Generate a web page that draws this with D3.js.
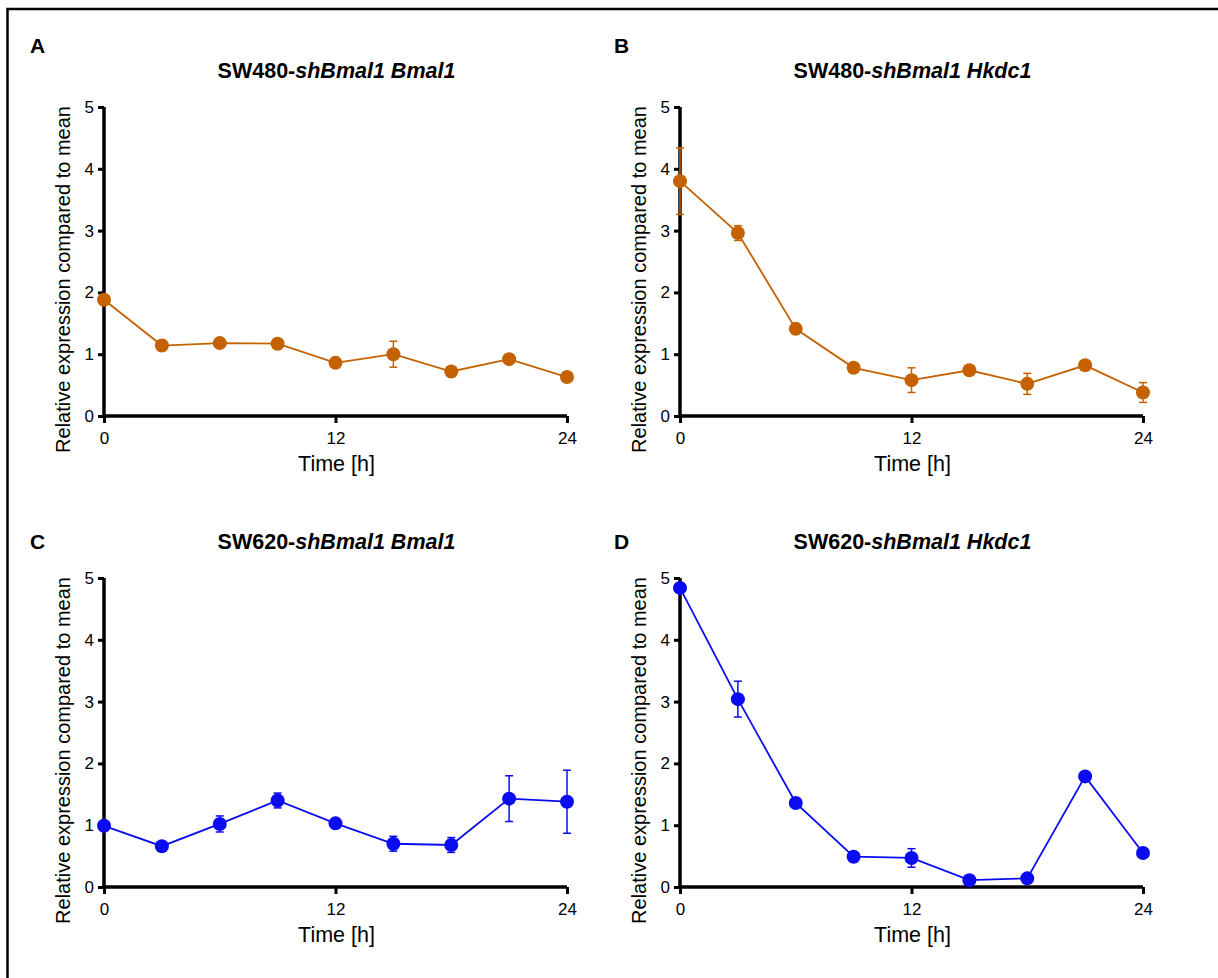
<!DOCTYPE html>
<html>
<head>
<meta charset="utf-8">
<script src="https://d3js.org/d3.v7.min.js"></script>
<style>
  body { margin: 0; background: #fff; }
  text { font-family: Arial, "Liberation Sans", sans-serif; fill: #000; }
</style>
</head>
<body>
<svg id="svg" width="1218" height="978"></svg>
<script>
// time points (h)
var hours = [0, 3, 6, 9, 12, 15, 18, 21, 24];
var xTicks = [0, 12, 24];
var yTicks = [0, 1, 2, 3, 4, 5];

// panel A: SW480 Bmal1
var meanA = [1.88, 1.14, 1.18, 1.17, 0.86, 1.00, 0.72, 0.92, 0.63];
var semA  = [0.03, 0.03, 0.03, 0.03, 0.07, 0.21, 0.03, 0.03, 0.03];
// panel B: SW480 Hkdc1
var meanB = [3.80, 2.96, 1.41, 0.78, 0.58, 0.74, 0.52, 0.82, 0.38];
var semB  = [0.54, 0.12, 0.03, 0.03, 0.20, 0.03, 0.17, 0.03, 0.16];
// panel C: SW620 Bmal1
var meanC = [0.99, 0.66, 1.02, 1.40, 1.03, 0.70, 0.68, 1.43, 1.38];
var semC  = [0.03, 0.03, 0.13, 0.12, 0.03, 0.12, 0.12, 0.37, 0.51];
// panel D: SW620 Hkdc1
var meanD = [4.84, 3.04, 1.36, 0.49, 0.47, 0.11, 0.14, 1.79, 0.55];
var semD  = [0.03, 0.29, 0.03, 0.03, 0.15, 0.03, 0.03, 0.03, 0.03];

var orange = "#c46200";
var blue = "#0b0bf2";

var panels = [
  {letter: "A", cell: "SW480-", gene: "Bmal1", mean: meanA, sem: semA, color: orange, x0: 104, y0: 107, lx: 30, ly: 53, ty: 78},
  {letter: "B", cell: "SW480-", gene: "Hkdc1", mean: meanB, sem: semB, color: orange, x0: 680, y0: 107, lx: 614, ly: 53, ty: 78},
  {letter: "C", cell: "SW620-", gene: "Bmal1", mean: meanC, sem: semC, color: blue, x0: 104, y0: 578, lx: 30, ly: 549, ty: 549},
  {letter: "D", cell: "SW620-", gene: "Hkdc1", mean: meanD, sem: semD, color: blue, x0: 680, y0: 578, lx: 614, ly: 549, ty: 549}
];

var svg = d3.select("svg");
var w = 463, h = 309;

// outer frame (only top and left edges fall inside the picture)
svg.append("rect").attr("x", 7.5).attr("y", 9).attr("width", 1300).attr("height", 1100)
  .attr("fill", "none").attr("stroke", "#000").attr("stroke-width", 2.5);

panels.forEach(function(p) {
  var g = svg.append("g").attr("transform", "translate(" + p.x0 + "," + p.y0 + ")");
  var x = d3.scaleLinear().domain([0, 24]).range([0, w]);
  var y = d3.scaleLinear().domain([0, 5]).range([h, 0]);

  var xa = g.append("g").attr("transform", "translate(0," + h + ")")
    .call(d3.axisBottom(x).tickValues(xTicks).tickFormat(d3.format("d")).tickSize(7).tickPadding(9));
  var ya = g.append("g")
    .call(d3.axisLeft(y).tickValues(yTicks).tickFormat(d3.format("d")).tickSize(6).tickPadding(4));
  [xa, ya].forEach(function(a) {
    a.attr("font-size", 17).attr("font-family", null);
    a.select(".domain").attr("stroke-width", 3.5);
    a.selectAll(".tick line").attr("stroke-width", 3);
    a.selectAll(".tick text").attr("font-size", 17).style("font-size", "17px");
  });
  xa.select(".domain").attr("d", "M0,0H" + w);
  ya.select(".domain").attr("d", "M0," + (h + 1.5) + "V0");

  // error bars
  var eb = g.append("g").attr("stroke", p.color).attr("stroke-width", 1.5);
  hours.forEach(function(t, i) {
    var cx = x(t), lo = y(p.mean[i] - p.sem[i]), hi = y(p.mean[i] + p.sem[i]);
    eb.append("line").attr("x1", cx).attr("x2", cx).attr("y1", lo).attr("y2", hi);
    eb.append("line").attr("x1", cx - 4).attr("x2", cx + 4).attr("y1", lo).attr("y2", lo);
    eb.append("line").attr("x1", cx - 4).attr("x2", cx + 4).attr("y1", hi).attr("y2", hi);
  });

  var line = d3.line().x(function(d, i) { return x(hours[i]); }).y(function(d) { return y(d); });
  g.append("path").datum(p.mean).attr("d", line)
    .attr("fill", "none").attr("stroke", p.color).attr("stroke-width", 1.8);

  g.selectAll("circle").data(p.mean).enter().append("circle")
    .attr("cx", function(d, i) { return x(hours[i]); })
    .attr("cy", function(d) { return y(d); })
    .attr("r", 7).attr("fill", p.color);

  // labels
  svg.append("text").attr("x", p.lx).attr("y", p.ly).style("font-size", "21px").attr("font-weight", "bold").text(p.letter);
  var title = svg.append("text").attr("x", p.x0 + w / 2 + 1).attr("y", p.ty)
    .attr("text-anchor", "middle").style("font-size", "21.5px").attr("font-weight", "bold");
  title.append("tspan").text(p.cell);
  title.append("tspan").attr("font-style", "italic").text("shBmal1 " + p.gene);

  svg.append("text").attr("x", p.x0 + w / 2 + 1).attr("y", p.y0 + h + 55)
    .attr("text-anchor", "middle").style("font-size", "21.5px").text("Time [h]");
  svg.append("text")
    .attr("transform", "translate(" + (p.x0 - 34) + "," + (p.y0 + h / 2 + 18) + ") rotate(-90)")
    .attr("text-anchor", "middle").style("font-size", "20px").text("Relative expression compared to mean");
});
</script>
</body>
</html>
